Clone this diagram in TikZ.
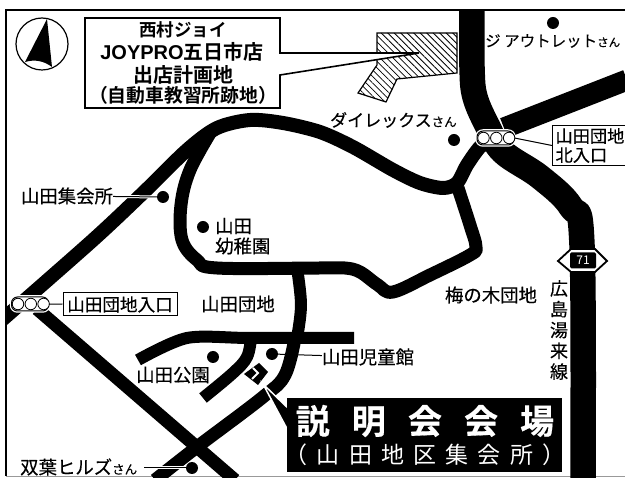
\documentclass[tikz,border=0pt]{standalone}
\usepackage{fontspec}
\setmainfont[FakeBold=0.35]{Noto Sans CJK JP}
\newfontfamily\boldjp{Noto Sans CJK JP Bold}
\newfontfamily\latinbold{Liberation Sans Bold}
\newfontfamily\hallfont[LetterSpace=65,FakeBold=0.5]{Noto Sans CJK JP Bold}
\newfontfamily\subfont[LetterSpace=40]{Noto Sans CJK JP}
\newfontfamily\plainfont{Noto Sans CJK JP}
\usetikzlibrary{patterns.meta,positioning}
\tikzset{
  road/.style={draw=black,line width=#1,line join=round},
  road/.default=13pt,
  dot/.style={circle,fill=black,inner sep=0pt,minimum size=12pt},
  lamp/.style={circle,draw=black,fill=white,line width=.8pt,inner sep=0pt,minimum size=11.5pt},
  signal/.style={rectangle,rounded corners=6pt,draw=black,fill=white,line width=1pt,inner sep=0pt,minimum width=37pt,minimum height=14pt,preaction={draw=white,line width=3.5pt}},
  maplabel/.style={inner sep=0pt,font=\fontsize{18.4}{20}\selectfont},
  sitetext/.style={inner sep=0pt,font=\boldjp\fontsize{#1}{#1}\selectfont},
  boxlabel/.style={draw=black,line width=1pt,fill=white,inner sep=2pt,font=\fontsize{17.6}{19}\selectfont},
  leader/.style={draw=black,line width=1pt,preaction={draw=white,line width=3pt}}
}
\newcommand{\san}{\fontsize{12.5}{14}\selectfont さん}
\begin{document}
\begin{tikzpicture}[x=1pt,y=-1pt]
  \useasboundingbox (0,0) rectangle (625,478);
  \draw [line width=.6pt,black!40] (6,476) -- (625,476);
  \draw [line width=1.2pt] (42,44) circle (26);
  \fill (47,19) -- (25,62) .. controls (35,59) and (44,61) .. (52,67) -- cycle;
  \path [draw=black,line width=1.2pt,pattern={Lines[angle=-45,distance=4.6pt,line width=.8pt]}]
    (377,33) -- (457,33) -- (457,73) -- (397,79) -- (386,102) -- (358,93) -- (377,65) -- cycle;
  \path [draw=black,fill=white,line width=1.6pt]
    (85,18) -- (280,18) -- (280,53) -- (419,53) -- (280,75) -- (280,108) -- (85,108) -- cycle;
  \node [sitetext=17.5] (site1) at (183,30) {西村ジョイ};
  \node [sitetext=20] (site2) at (182,52) {{\latinbold JOYPRO}五日市店};
  \node [sitetext=20] (site3) at (183,75) {出店計画地};
  \node [sitetext=18.8] (site4) at (183,95) {（自動車教習所跡地）};
  \begin{scope}
    \clip (6,10) rectangle (625,478);
    \draw [road=25.5pt] plot [smooth,tension=.6] coordinates {(472,8) (472,67) (475,97) (488,127) (503,152) (540,177) (571,207) (582,245) (583,480)};
    \draw [road=21pt] (504,128) -- (627,80);
    \draw [road=14pt] plot [smooth,tension=.5] coordinates {(2,320) (93,240) (143,193) (187,150) (217,128) (250,120) (283,123) (320,132) (353,147) (393,170) (420,183) (443,188) (457,183) (467,165) (480,147) (492,140)};
    \draw [road=13pt] plot [smooth,tension=.6] coordinates {(212,130) (190,170) (181,205) (182,240) (197,260) (217,268) (320,268) (345,268) (360,272) (378,285) (393,292) (430,275) (470,255) (476,247) (470,225) (458,188)};
    \draw [road=12pt] plot [smooth,tension=.6] coordinates {(297,268) (301,305) (297,338)};
    \draw [road=13pt] (37,309) -- (235,480);
    \draw [road=12pt] plot [smooth,tension=.5] coordinates {(138,360) (187,338) (250,338) (354,338)};
    \draw [road=12pt] plot [smooth,tension=.6] coordinates {(251,338) (247,357) (233,373) (203,398)};
    \draw [road=13pt] plot [smooth,tension=.6] coordinates {(155,480) (197,447) (263,397) (285,375) (295,338)};
  \end{scope}
  \draw [line width=1.6pt] (625,10) -- (6,10) -- (6,476);
  \path [fill=black] (244,374) -- (259,363) -- (268,372) -- (258,385) -- cycle;
  \draw [white,line width=2pt] (253,368) -- (258,373) -- (252,379);
  \path [draw=white,fill=black,line width=1.5pt] (263,384) -- (292,412) -- (292,438) -- cycle;
  \node [fill=black,minimum width=275pt,minimum height=74pt,inner sep=0pt] (hall) at (424.5,435) {};
  \node [inner sep=0pt,text=white,font=\fontsize{34}{36}\hallfont] (hallname) at (425,421) {説明会会場};
  \node [inner sep=0pt,text=white,font=\fontsize{23}{25}\subfont] (hallsub) at (425,455) {（山田地区集会所）};
  \node [dot] (d1) at (163,197) {};
  \node [dot] (d2) at (203,227) {};
  \node [dot] (d3) at (553,23) {};
  \node [dot] (d4) at (454,140) {};
  \node [dot] (d5) at (213,357) {};
  \node [dot] (d6) at (272,354) {};
  \node [dot] (d7) at (192,468) {};
  \node [signal] (north) at (495.5,138) {};
  \node [lamp] (n1) at (483.5,138) {};
  \node [lamp] (n2) [right=.5pt of n1] {};
  \node [lamp] (n3) [right=.5pt of n2] {};
  \node [signal] (west) at (30,304) {};
  \node [lamp] (w1) at (18,304) {};
  \node [lamp] (w2) [right=.5pt of w1] {};
  \node [lamp] (w3) [right=.5pt of w2] {};
  \node [maplabel] (club) at (67,196) {山田集会所};
  \draw [leader] (club) -- (d1);
  \node [maplabel,anchor=west] (kinder) at (215,226) {山田};
  \node [maplabel,anchor=west] (kinder2) at (215,246) {幼稚園};
  \node [maplabel] (estate) at (238,304) {山田団地};
  \node [maplabel] (park) at (173,375) {山田公園};
  \node [maplabel] (child) at (368,357) {山田児童館};
  \draw [line width=1pt] (d6) -- (child);
  \node [maplabel] (ume) at (491,295) {梅の木団地};
  \node [maplabel,align=center,font=\fontsize{18}{20.8}\selectfont] (route) at (559,330) {広\\島\\湯\\来\\線};
  \node [boxlabel,minimum width=114pt,minimum height=23pt] (westbox) at (120,304.5) {山田団地入口};
  \draw [line width=1pt] (west) -- (westbox);
  \node [boxlabel,anchor=north west,align=left,minimum width=75pt,minimum height=40pt,font=\fontsize{17.2}{19}\selectfont] (northbox) at (552,125) {山田団地\\北入口};
  \draw [line width=1pt] (north.east) -- (northbox.west);
  \node [inner sep=0pt,anchor=west,font=\fontsize{15.5}{17}\selectfont] (outlet) at (485,41) {ジ アウトレット{\fontsize{11.5}{13}\selectfont さん}};
  \node [inner sep=0pt,anchor=west,font=\fontsize{17}{19}\selectfont] (dai) at (330,120) {ダイレックス{\san}};
  \node [maplabel,anchor=west] (hills) at (20,467) {双葉ヒルズ{\san}};
  \draw [leader] (hills.east) ++(7,1) coordinate (h1) (h1) -- (d7);
  \path [draw=black,fill=white,line width=1.8pt] (558,261) -- (571,249) -- (595,249) -- (607,261) -- (595,272) -- (571,272) -- cycle;
  \node [fill=black,rounded corners=1.5pt,text=white,inner sep=0pt,minimum width=26pt,minimum height=16pt,font=\fontsize{12}{13}\plainfont] (num) at (583,260.5) {71};
\end{tikzpicture}
\end{document}
